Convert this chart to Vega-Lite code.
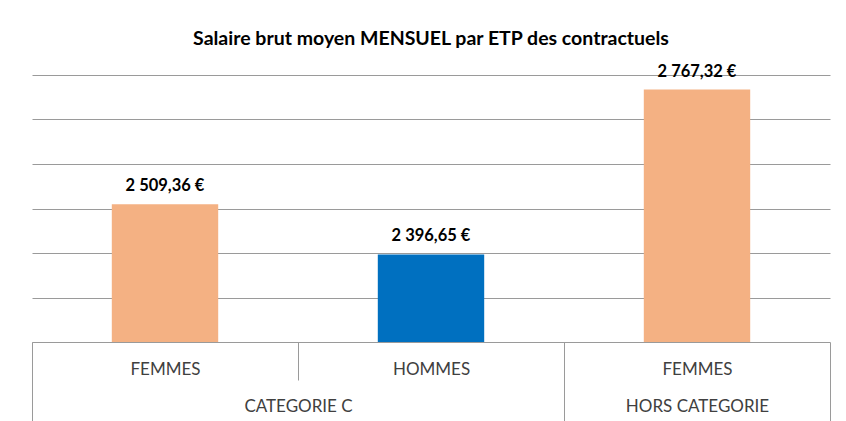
{
  "$schema": "https://vega.github.io/schema/vega-lite/v6.json",
  "width": 798,
  "height": 267,
  "autosize": {"type": "none"},
  "padding": {"left": 32, "top": 75, "right": 16, "bottom": 79},
  "background": "white",
  "title": {
    "text": "Salaire brut moyen MENSUEL par ETP des contractuels",
    "font": "Lato",
    "fontSize": 19.5,
    "fontWeight": "bold",
    "color": "#000000",
    "anchor": "middle",
    "offset": 14
  },
  "config": {
    "view": {"stroke": null},
    "locale": {
      "number": {"decimal": ",", "thousands": " ", "grouping": [3], "currency": ["", " €"]}
    }
  },
  "data": {
    "values": [
      {"groupe": "CATEGORIE C", "sexe": "FEMMES", "cle": "CATEGORIE C|FEMMES", "salaire": 2509.36},
      {"groupe": "CATEGORIE C", "sexe": "HOMMES", "cle": "CATEGORIE C|HOMMES", "salaire": 2396.65},
      {"groupe": "HORS CATEGORIE", "sexe": "FEMMES", "cle": "HORS CATEGORIE|FEMMES", "salaire": 2767.32}
    ]
  },
  "encoding": {
    "y": {
      "field": "salaire",
      "type": "quantitative",
      "scale": {"domain": [2200, 2800], "nice": false, "zero": false},
      "axis": {
        "title": null,
        "labels": false,
        "ticks": false,
        "domain": false,
        "grid": true,
        "gridColor": "#9a9a9a",
        "gridWidth": 1,
        "values": [2300, 2400, 2500, 2600, 2700, 2800]
      }
    }
  },
  "layer": [
    {
      "mark": {"type": "bar", "width": {"band": 0.4}, "clip": true},
      "encoding": {
        "x": {
          "field": "cle",
          "type": "nominal",
          "sort": null,
          "scale": {"paddingInner": 0, "paddingOuter": 0},
          "axis": {
            "title": null,
            "orient": "bottom",
            "grid": false,
            "tickBand": "extent",
            "labelAngle": 0,
            "domainColor": "#9a9a9a",
            "tickColor": "#9a9a9a",
            "tickSize": {"condition": {"test": "datum.value == 'HORS CATEGORIE|FEMMES'", "value": 80}, "value": 38},
            "labelPadding": {"condition": {"test": "datum.value == 'HORS CATEGORIE|FEMMES'", "value": -53}, "value": -11},
            "labelBaseline": "middle",
            "labelExpr": "split(datum.value, '|')[1]",
            "labelFont": "Lato",
            "labelFontSize": 17,
            "labelColor": "#404040"
          }
        },
        "color": {
          "field": "sexe",
          "type": "nominal",
          "scale": {"domain": ["FEMMES", "HOMMES"], "range": ["#F4B183", "#0070C0"]},
          "legend": null
        }
      }
    },
    {
      "mark": {"type": "text", "baseline": "middle", "dy": -18, "font": "Lato", "fontSize": 16.5, "fontWeight": "bold", "color": "#000000"},
      "encoding": {
        "x": {
          "field": "cle",
          "type": "nominal",
          "sort": null,
          "scale": {"paddingInner": 0, "paddingOuter": 0},
          "axis": {
            "title": null,
            "orient": "bottom",
            "grid": false,
            "domain": false,
            "tickOffset": -133,
            "labelAngle": 0,
            "tickColor": "#9a9a9a",
            "tickSize": {"condition": {"test": "datum.value == 'CATEGORIE C|HOMMES'", "value": 0}, "value": 80},
            "labelOffset": {"condition": {"test": "datum.value == 'CATEGORIE C|FEMMES'", "value": 266}, "value": 133},
            "labelPadding": -16,
            "labelBaseline": "middle",
            "labelExpr": "datum.value == 'CATEGORIE C|FEMMES' ? 'CATEGORIE C' : datum.value == 'HORS CATEGORIE|FEMMES' ? 'HORS CATEGORIE' : ''",
            "labelFont": "Lato",
            "labelFontSize": 17,
            "labelColor": "#404040"
          }
        },
        "text": {"field": "salaire", "type": "quantitative", "format": "$,.2f"}
      }
    }
  ],
  "resolve": {"scale": {"x": "independent"}}
}
